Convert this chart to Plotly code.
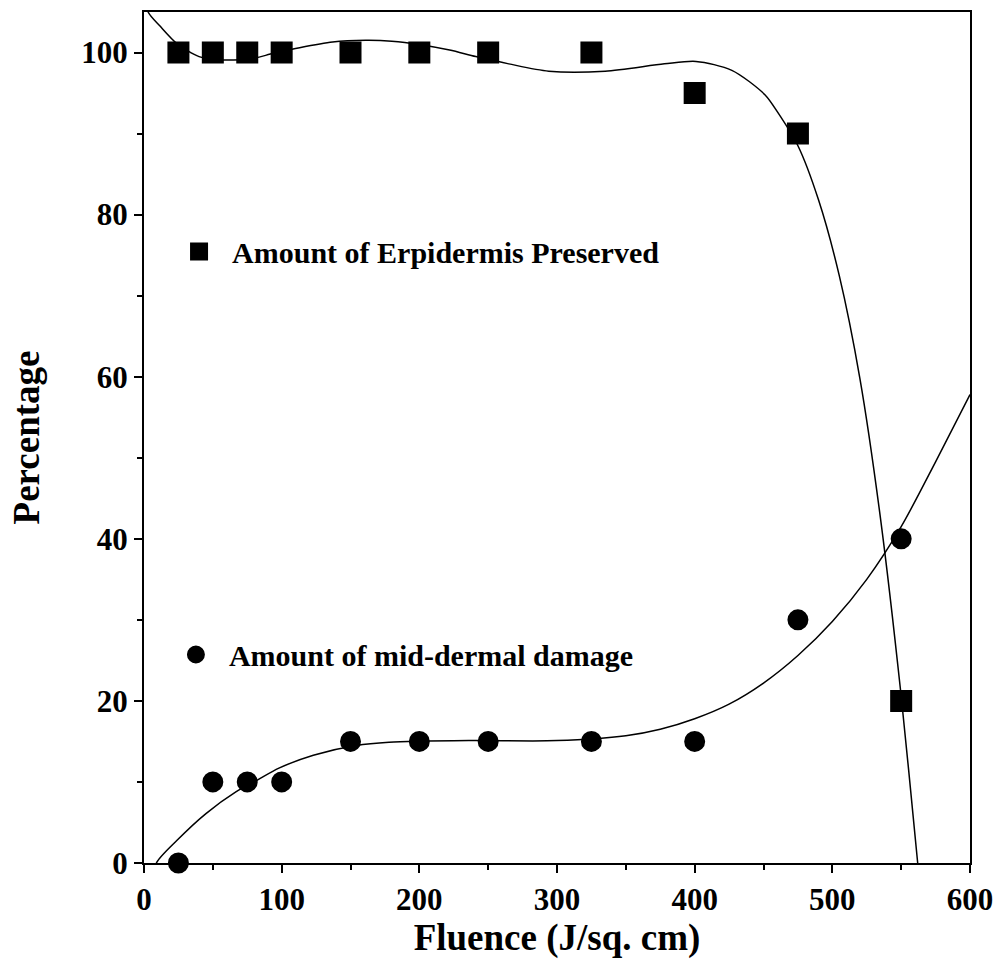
import plotly.graph_objects as go

# Measured data points
fluence = [25, 50, 75, 100, 150, 200, 250, 325, 400, 475, 550]
epidermis_preserved = [100, 100, 100, 100, 100, 100, 100, 100, 95, 90, 20]
mid_dermal_damage = [0, 10, 10, 10, 15, 15, 15, 15, 15, 30, 40]

# Fitted curve for epidermis preserved
fit_epi_x = [0, 3, 12, 24, 40, 53, 77, 94, 113, 137, 161, 180, 200, 222, 241, 265,
             294, 335, 378, 401, 427, 451, 460, 475, 490, 505, 520, 535, 550, 562, 565]
fit_epi_y = [108, 105, 103.2, 101.1, 99.5, 99.1, 99.2, 99.9, 100.6, 101.3, 101.5,
             101.4, 101.0, 100.3, 99.5, 98.6, 97.7, 97.7, 98.6, 98.9, 97.8, 94.8,
             92.7, 88.5, 81.8, 72.5, 59.8, 42.5, 20.6, 0, -5]

# Fitted curve for mid-dermal damage
fit_mid_x = [7, 9, 24, 45, 67, 82, 98, 123, 154, 178, 236, 300, 350, 375, 400, 425,
             450, 475, 500, 525, 550, 575, 600]
fit_mid_y = [-2, 0, 2.8, 6.1, 8.8, 10.2, 11.7, 13.3, 14.5, 14.9, 15.1, 15.1, 15.7,
             16.5, 17.8, 19.6, 22.2, 25.6, 29.8, 35.0, 41.5, 49.5, 57.8]

x_ticks = [0, 100, 200, 300, 400, 500, 600]
y_ticks = [0, 20, 40, 60, 80, 100]

FONT = "Liberation Serif"

fig = go.Figure()

fig.add_trace(go.Scatter(x=fit_epi_x, y=fit_epi_y, mode="lines",
                         line=dict(color="black", width=1.5, shape="spline", smoothing=0.8),
                         showlegend=False, hoverinfo="skip"))
fig.add_trace(go.Scatter(x=fit_mid_x, y=fit_mid_y, mode="lines",
                         line=dict(color="black", width=1.5, shape="spline", smoothing=0.8),
                         showlegend=False, hoverinfo="skip"))

fig.add_trace(go.Scatter(x=fluence, y=epidermis_preserved, mode="markers",
                         name="<b>Amount of Erpidermis Preserved</b>",
                         marker=dict(symbol="square", size=20, color="black",
                                     line=dict(color="black", width=2)),
                         cliponaxis=False, legend="legend"))
fig.add_trace(go.Scatter(x=fluence, y=mid_dermal_damage, mode="markers",
                         name="<b>Amount of mid-dermal damage</b>",
                         marker=dict(symbol="circle", size=19, color="black",
                                     line=dict(color="black", width=2)),
                         cliponaxis=False, legend="legend2"))

axis_common = dict(
    showline=True, linecolor="black", linewidth=2, mirror=True,
    ticks="outside", ticklen=8, tickwidth=2, tickcolor="black",
    showgrid=False, zeroline=False,
    tickfont=dict(family=FONT, size=31, color="black"),
)

fig.update_layout(
    width=1003, height=975,
    margin=dict(l=144, r=30, t=10, b=112),
    plot_bgcolor="white", paper_bgcolor="white",
    font=dict(family=FONT, color="black"),
    xaxis=dict(range=[0, 600], tickvals=x_ticks,
               ticktext=[f"<b>{v}</b>" for v in x_ticks],
               minor=dict(ticks="outside", ticklen=5, tickwidth=2, tickcolor="black", dtick=50),
               title=dict(text="<b>Fluence (J/sq. cm)</b>",
                          font=dict(family=FONT, size=37, color="black"), standoff=8),
               **axis_common),
    yaxis=dict(range=[0, 105], tickvals=y_ticks,
               ticktext=[f"<b>{v}</b>" for v in y_ticks],
               minor=dict(ticks="outside", ticklen=5, tickwidth=2, tickcolor="black", dtick=10),
               title=dict(text="<b>Percentage</b>",
                          font=dict(family=FONT, size=37, color="black"), standoff=30),
               **axis_common),
    legend=dict(x=0.0267, y=0.7186, xanchor="left", yanchor="middle", itemwidth=56,
                bgcolor="rgba(0,0,0,0)", font=dict(family=FONT, size=30, color="black"),
                itemsizing="trace"),
    legend2=dict(x=0.0229, y=0.2450, xanchor="left", yanchor="middle", itemwidth=56,
                 bgcolor="rgba(0,0,0,0)", font=dict(family=FONT, size=30, color="black"),
                 itemsizing="trace"),
)

fig.write_html("out.html")
